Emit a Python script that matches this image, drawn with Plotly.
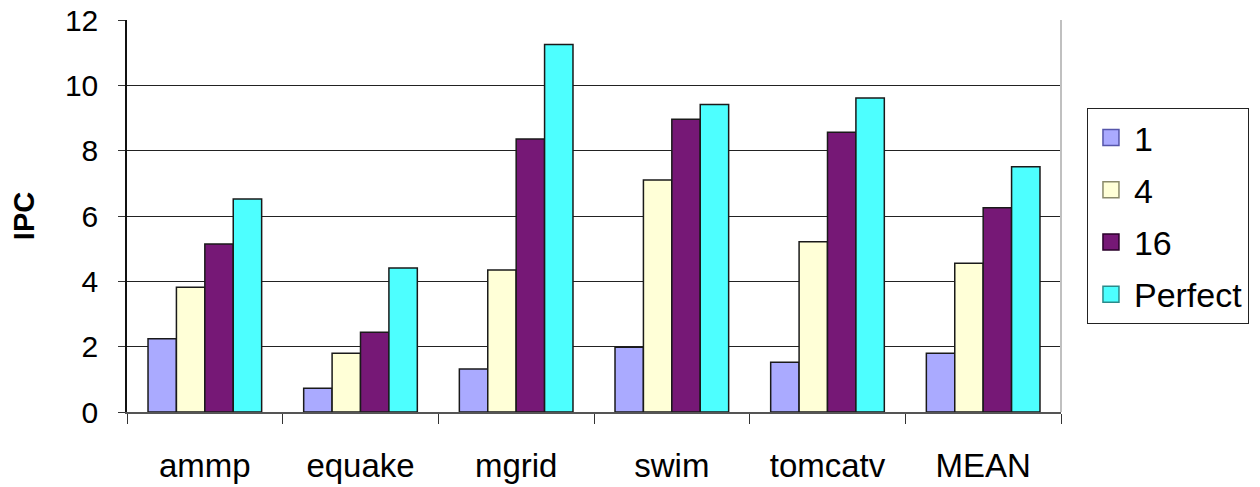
import plotly.graph_objects as go

# Benchmarks on the category axis
benchmarks = ["ammp", "equake", "mgrid", "swim", "tomcatv", "MEAN"]

# IPC per configuration
ipc_1 = [2.24, 0.73, 1.32, 1.98, 1.52, 1.80]
ipc_4 = [3.82, 1.80, 4.35, 7.10, 5.21, 4.55]
ipc_16 = [5.14, 2.44, 8.36, 8.96, 8.56, 6.25]
ipc_perfect = [6.52, 4.41, 11.25, 9.41, 9.61, 7.51]

series_names = ["1", "4", "16", "Perfect"]
y_ticks = [0, 2, 4, 6, 8, 10, 12]

colors = ["#aaaaff", "#ffffd7", "#761876", "#4dffff"]
edge_colors = ["#5555aa", "#8a8a6a", "#2a002a", "#2a8a8a"]
FONT = "Liberation Sans, Arial, sans-serif"

fig = go.Figure()
for name, vals, col in zip(series_names, [ipc_1, ipc_4, ipc_16, ipc_perfect], colors):
    fig.add_trace(go.Bar(
        x=benchmarks, y=vals, name=name, showlegend=False,
        marker=dict(color=col, line=dict(color="#1a1a1a", width=1.5)),
    ))

# Legend entries with larger square swatches
for name, col, ec in zip(series_names, colors, edge_colors):
    fig.add_trace(go.Scatter(
        x=[None], y=[None], name=name, mode="markers", legendgroup=name,
        marker=dict(symbol="square", size=20, color=col, line=dict(color=ec, width=1.5)),
    ))

fig.update_layout(
    width=1260, height=487,
    margin=dict(l=127, r=198, t=20, b=75),
    paper_bgcolor="white", plot_bgcolor="white",
    barmode="group", bargap=0.27, bargroupgap=0,
    font=dict(family=FONT, color="black"),
    legend=dict(
        x=1.0267, xanchor="left", y=0.7755, yanchor="top",
        font=dict(family=FONT, size=34, color="black"),
        bordercolor="#222222", borderwidth=1, bgcolor="white",
        tracegroupgap=5, itemwidth=36,
    ),
    shapes=[dict(type="line", xref="paper", yref="paper", x0=1, x1=1, y0=0, y1=1,
                 line=dict(color="#c0c0c0", width=2))],
)

fig.update_xaxes(
    type="category", tickson="boundaries", ticks="outside", ticklen=10,
    tickcolor="#333333", showline=True, linecolor="#555555", linewidth=1.5,
    tickfont=dict(family=FONT, size=33, color="black"),
    ticklabelstandoff=24, showgrid=False, automargin=False,
)
fig.update_yaxes(
    range=[0, 12], tickvals=y_ticks, ticks="outside", ticklen=7,
    tickcolor="#333333", showline=True, linecolor="#111111", linewidth=1.5,
    showgrid=True, gridcolor="#222222", gridwidth=1,
    tickfont=dict(family=FONT, size=30, color="black"), ticklabelstandoff=14,
    title=dict(text="<b>IPC</b>", font=dict(family=FONT, size=29, color="black"), standoff=22),
    zeroline=False, automargin=False,
)

fig.write_html("out.html")
